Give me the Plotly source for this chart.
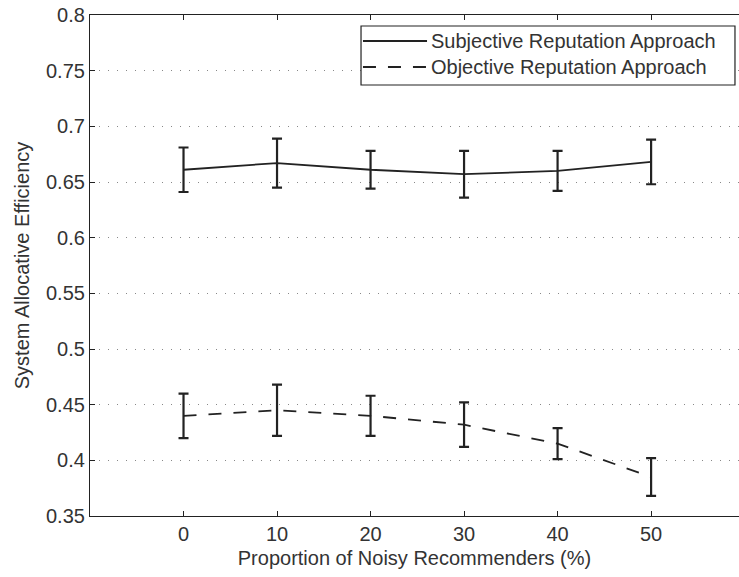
import plotly.graph_objects as go

x_vals = [0, 10, 20, 30, 40, 50]
subj_mean = [0.661, 0.667, 0.661, 0.657, 0.660, 0.668]
subj_err = [0.020, 0.022, 0.017, 0.021, 0.018, 0.020]
obj_mean = [0.440, 0.445, 0.440, 0.432, 0.415, 0.385]
obj_err = [0.020, 0.023, 0.018, 0.020, 0.014, 0.017]

series_names = ["Subjective Reputation Approach", "Objective Reputation Approach"]
x_ticks = [0, 10, 20, 30, 40, 50]
y_ticks = [0.35, 0.4, 0.45, 0.5, 0.55, 0.6, 0.65, 0.7, 0.75, 0.8]
y_tick_text = ["0.35", "0.4", "0.45", "0.5", "0.55", "0.6", "0.65", "0.7", "0.75", "0.8"]

FONT = "Liberation Sans, Arial, Helvetica, sans-serif"
INK = "#222222"
TXT = "#333333"
SOLID = "solid"
DASH = "13px,12px"

fig = go.Figure()
fig.add_trace(go.Scatter(
    x=x_vals, y=subj_mean, mode="lines", name=series_names[0],
    line=dict(color=INK, width=1.8, dash=SOLID),
    error_y=dict(type="data", array=subj_err, visible=True,
                 color=INK, thickness=2.2, width=5),
))
fig.add_trace(go.Scatter(
    x=x_vals, y=obj_mean, mode="lines", name=series_names[1],
    line=dict(color=INK, width=1.8, dash=DASH),
    error_y=dict(type="data", array=obj_err, visible=True,
                 color=INK, thickness=2.2, width=5),
))

# custom legend (box, line samples, labels) in paper coordinates
box = dict(x0=0.4176, x1=0.9938, y0=0.8603, y1=0.978)
fig.add_shape(type="rect", xref="paper", yref="paper",
              x0=box["x0"], x1=box["x1"], y0=box["y0"], y1=box["y1"],
              line=dict(color=INK, width=1.2), fillcolor="white", layer="above")
rows_y = [0.9481, 0.8962]
for name, dash, ry in zip(series_names, [SOLID, DASH], rows_y):
    fig.add_shape(type="line", xref="paper", yref="paper",
                  x0=0.4206, x1=0.5193, y0=ry, y1=ry,
                  line=dict(color=INK, width=1.8, dash=dash), layer="above")
    fig.add_annotation(xref="paper", yref="paper", x=0.5224, y=ry,
                       xanchor="left", yanchor="middle", text=name,
                       showarrow=False, font=dict(family=FONT, size=20, color=TXT))

fig.update_layout(
    width=739, height=577,
    margin=dict(l=90, r=0, t=15, b=61),
    paper_bgcolor="white", plot_bgcolor="white",
    font=dict(family=FONT, size=20, color=TXT),
    showlegend=False,
)
fig.update_xaxes(
    range=[-10, 59.4], tickvals=x_ticks,
    showline=True, linecolor=INK, linewidth=1.2, mirror="ticks",
    ticks="inside", ticklen=5, tickcolor=INK,
    showgrid=False, zeroline=False, automargin=False,
    tickfont=dict(size=20),
    title=dict(text="Proportion of Noisy Recommenders (%)", standoff=6,
               font=dict(size=20)),
)
fig.update_yaxes(
    range=[0.35, 0.8], tickvals=y_ticks, ticktext=y_tick_text,
    showline=True, linecolor=INK, linewidth=1.2, mirror=False,
    ticks="inside", ticklen=5, tickcolor=INK,
    showgrid=True, gridcolor="#888888", gridwidth=1, griddash="1px,8px",
    zeroline=False, automargin=False,
    tickfont=dict(size=20),
    title=dict(text="System Allocative Efficiency", standoff=10,
               font=dict(size=20)),
)

fig.write_html("out.html")
